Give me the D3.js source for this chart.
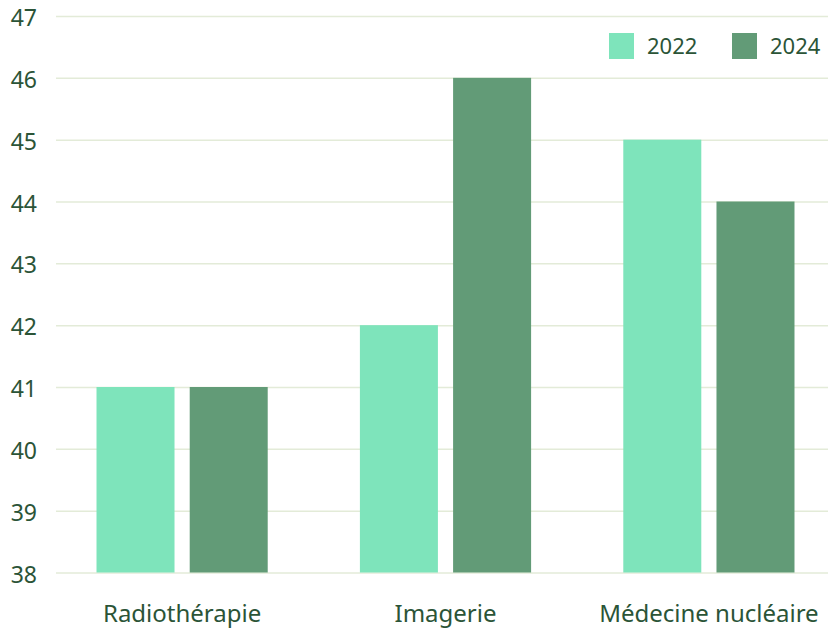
<!DOCTYPE html>
<html><head><meta charset="utf-8">
<script src="https://cdn.jsdelivr.net/npm/d3@7"></script>
<style>body{margin:0;background:#fff}svg{display:block}text{font-family:"Noto Sans",sans-serif}</style>
</head><body><svg id="c" width="828" height="628"></svg>
<script>
const categories = ["Radiothérapie", "Imagerie", "Médecine nucléaire"];
const seriesNames = ["2022", "2024"];
const values2022 = [41, 42, 45];
const values2024 = [41, 46, 44];
const yTicks = [38, 39, 40, 41, 42, 43, 44, 45, 46, 47];
const colors = ["#7ee4bb", "#629b77"];
const textColor = "#2b5437";

const svg = d3.select("#c");
const x0 = d3.scaleBand().domain(categories).range([57, 834]).paddingInner(0.35).paddingOuter(0.15);
const x1 = d3.scaleBand().domain(seriesNames).range([0, x0.bandwidth()]).paddingInner(0.163).paddingOuter(0);
const y = d3.scaleLinear().domain([38, 47]).range([572.5, 16]);
const color = d3.scaleOrdinal().domain(seriesNames).range(colors);

const yAxis = svg.append("g").attr("transform", "translate(56,0)")
  .call(d3.axisLeft(y).tickValues(yTicks).tickSize(-772).tickFormat(d3.format("d")));
yAxis.select(".domain").remove();
yAxis.selectAll(".tick line").attr("stroke", "#e3ebd8").attr("stroke-width", 1.5);
yAxis.selectAll(".tick text").attr("x", -19).attr("y", 9.5).attr("dy", 0).attr("fill", textColor)
  .attr("font-size", 23).attr("text-anchor", "end");

const data = categories.map((c, i) => ({cat: c, vals: [values2022[i], values2024[i]]}));
const g = svg.append("g");
g.selectAll("g").data(data).join("g")
  .attr("transform", d => `translate(${x0(d.cat)},0)`)
  .selectAll("rect").data(d => d.vals.map((v, j) => ({s: seriesNames[j], v})))
  .join("rect")
  .attr("x", d => x1(d.s)).attr("width", x1.bandwidth())
  .attr("y", d => y(d.v)).attr("height", d => y(38) - y(d.v))
  .attr("fill", d => color(d.s));

const xAxis = svg.append("g").attr("transform", "translate(0,572.5)")
  .call(d3.axisBottom(x0).tickSize(0));
xAxis.select(".domain").remove();
xAxis.selectAll(".tick text").attr("fill", textColor).attr("font-size", 24).attr("y", 49.5).attr("dy", 0);

const legend = svg.append("g");
const lx = [609, 732];
seriesNames.forEach((s, i) => {
  legend.append("rect").attr("x", lx[i]).attr("y", 33).attr("width", 25).attr("height", 26).attr("fill", color(s));
  legend.append("text").attr("x", lx[i] + 38).attr("y", 54).attr("fill", textColor).attr("font-size", 22).text(s);
});
</script></body></html>
